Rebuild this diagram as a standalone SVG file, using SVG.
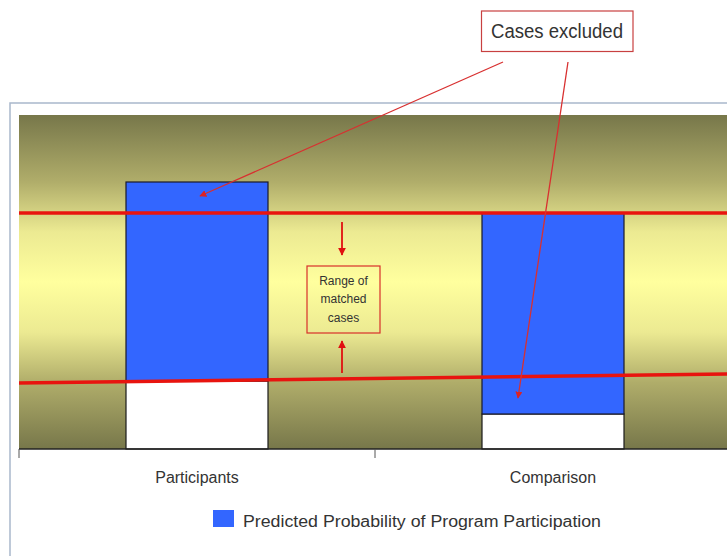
<svg xmlns="http://www.w3.org/2000/svg" width="727" height="556" viewBox="0 0 727 556">
<defs>
<linearGradient id="bg" x1="0" y1="115" x2="0" y2="449" gradientUnits="userSpaceOnUse">
<stop offset="0" stop-color="#77774a"/>
<stop offset="0.2" stop-color="#b0ad6a"/>
<stop offset="0.35" stop-color="#ecea92"/>
<stop offset="0.5" stop-color="#ffff9e"/>
<stop offset="0.65" stop-color="#ecea92"/>
<stop offset="0.8" stop-color="#b0ad6a"/>
<stop offset="1" stop-color="#77774a"/>
</linearGradient>
<marker id="ah" viewBox="0 0 10 10" refX="9" refY="5" markerWidth="7" markerHeight="7" orient="auto" markerUnits="userSpaceOnUse">
<path d="M0,0 L10,5 L0,10 z" fill="#dd2222"/>
</marker>
<marker id="ah2" viewBox="0 0 10 10" refX="9" refY="5" markerWidth="8" markerHeight="8" orient="auto" markerUnits="userSpaceOnUse">
<path d="M0,0 L10,5 L0,10 z" fill="#e01010"/>
</marker>
<style>
.lbl{font-family:"Liberation Sans",Arial,sans-serif;fill:#333;}
.bar{fill:#3366ff;stroke:#1a1a2a;stroke-width:1.2;}
.wb{fill:#ffffff;stroke:#1a1a1a;stroke-width:1.2;}
.rl{stroke:#e8140f;stroke-width:3.5;fill:none;}
.callout{stroke:#d83030;stroke-width:1.3;fill:none;}
</style>
</defs>
<rect x="0" y="0" width="727" height="556" fill="#ffffff"/>
<!-- outer frame -->
<path d="M727,103 L10,103 L10,556" fill="none" stroke="#a9b8cc" stroke-width="1.5"/>
<!-- plot area -->
<rect x="19" y="115" width="708" height="334" fill="url(#bg)"/>
<g id="participants-bar">
<rect class="wb" x="126" y="381" width="142" height="68"/>
<rect class="bar" x="126" y="182" width="142" height="199"/>
</g>
<g id="comparison-bar">
<rect class="wb" x="482" y="414" width="142" height="35"/>
<rect class="bar" x="482" y="213" width="142" height="201"/>
</g>
<!-- axis -->
<g id="axis">
<line x1="19" y1="449" x2="727" y2="449" stroke="#222" stroke-width="1.5"/>
<line x1="19" y1="449" x2="19" y2="458" stroke="#555" stroke-width="1"/>
<line x1="375" y1="449" x2="375" y2="458" stroke="#555" stroke-width="1"/>
<text class="lbl" x="197" y="483" font-size="16" text-anchor="middle">Participants</text>
<text class="lbl" x="553" y="483" font-size="16" text-anchor="middle">Comparison</text>
</g>
<g id="range-lines">
<line class="rl" x1="19" y1="213" x2="727" y2="213"/>
<line class="rl" x1="19" y1="383" x2="727" y2="374"/>
</g>
<g id="range-box">
<rect x="307" y="266" width="73" height="67" fill="none" stroke="#d8302a" stroke-width="1.2"/>
<text class="lbl" font-size="12" text-anchor="middle"><tspan x="343.5" y="285">Range of</tspan><tspan x="343.5" y="303">matched</tspan><tspan x="343.5" y="322">cases</tspan></text>
</g>
<g id="cases-excluded">
<rect x="481.5" y="11" width="151.5" height="40.5" fill="#ffffff" stroke="#c84040" stroke-width="1.2"/>
<text class="lbl" x="557" y="38" font-size="20" text-anchor="middle" textLength="132" lengthAdjust="spacingAndGlyphs">Cases excluded</text>
</g>
<g id="connectors">
<line class="callout" x1="503" y1="62" x2="200" y2="196" marker-end="url(#ah)"/>
<line class="callout" x1="568" y1="62" x2="518" y2="398" marker-end="url(#ah)"/>
<line x1="342" y1="222" x2="342" y2="255" stroke="#e01010" stroke-width="1.8" marker-end="url(#ah2)"/>
<line x1="342" y1="373" x2="342" y2="341" stroke="#e01010" stroke-width="1.8" marker-end="url(#ah2)"/>
</g>
<g id="legend">
<rect x="213" y="510" width="21" height="17" fill="#3366ff"/>
<text class="lbl" x="243" y="527" font-size="16" textLength="358" lengthAdjust="spacingAndGlyphs">Predicted Probability of Program Participation</text>
</g>
</svg>
